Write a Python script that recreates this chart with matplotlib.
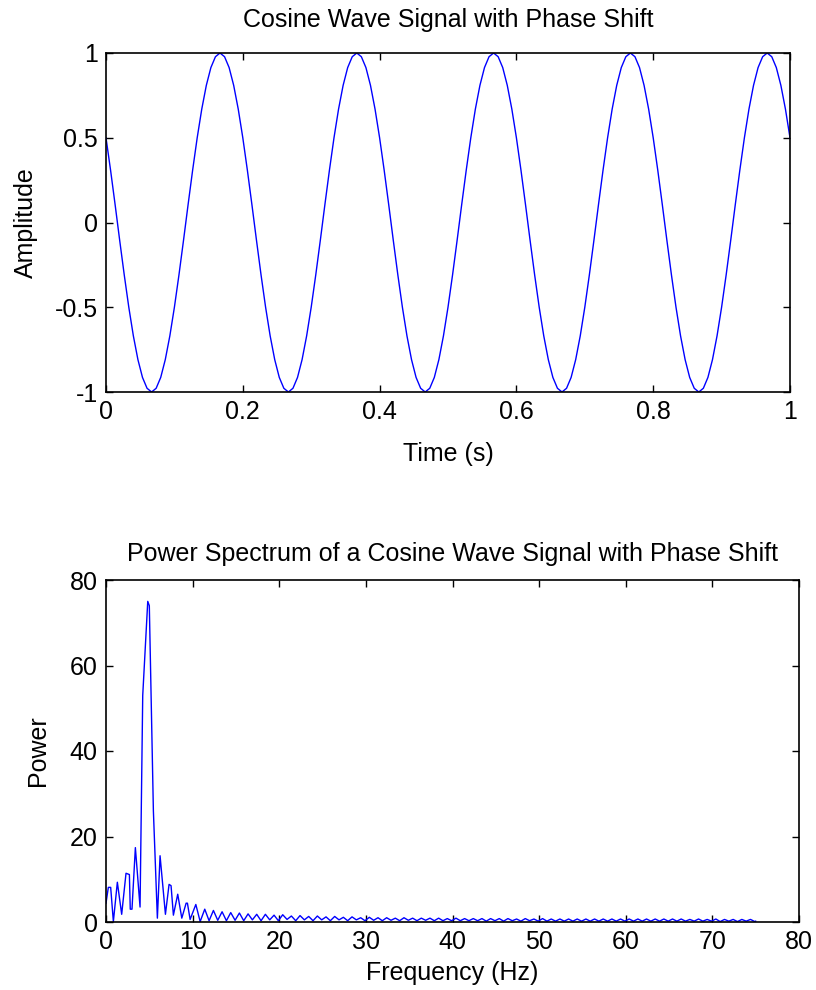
import numpy as np
import matplotlib
matplotlib.use("Agg")
import matplotlib.pyplot as plt

plt.rcParams['font.family'] = ['Liberation Sans', 'DejaVu Sans']

# ---- top panel: sampled cosine (151 samples over 1 s) ----
amplitude = [
    0.5, 0.309, 0.105, -0.105, -0.309, -0.5, -0.669, -0.809, -0.914, -0.978,
    -1.0, -0.978, -0.914, -0.809, -0.669, -0.5, -0.309, -0.105, 0.105, 0.309,
    0.5, 0.669, 0.809, 0.914, 0.978, 1.0, 0.978, 0.914, 0.809, 0.669,
    0.5, 0.309, 0.105, -0.105, -0.309, -0.5, -0.669, -0.809, -0.914, -0.978,
    -1.0, -0.978, -0.914, -0.809, -0.669, -0.5, -0.309, -0.105, 0.105, 0.309,
    0.5, 0.669, 0.809, 0.914, 0.978, 1.0, 0.978, 0.914, 0.809, 0.669,
    0.5, 0.309, 0.105, -0.105, -0.309, -0.5, -0.669, -0.809, -0.914, -0.978,
    -1.0, -0.978, -0.914, -0.809, -0.669, -0.5, -0.309, -0.105, 0.105, 0.309,
    0.5, 0.669, 0.809, 0.914, 0.978, 1.0, 0.978, 0.914, 0.809, 0.669,
    0.5, 0.309, 0.105, -0.105, -0.309, -0.5, -0.669, -0.809, -0.914, -0.978,
    -1.0, -0.978, -0.914, -0.809, -0.669, -0.5, -0.309, -0.105, 0.105, 0.309,
    0.5, 0.669, 0.809, 0.914, 0.978, 1.0, 0.978, 0.914, 0.809, 0.669,
    0.5, 0.309, 0.105, -0.105, -0.309, -0.5, -0.669, -0.809, -0.914, -0.978,
    -1.0, -0.978, -0.914, -0.809, -0.669, -0.5, -0.309, -0.105, 0.105, 0.309,
    0.5, 0.669, 0.809, 0.914, 0.978, 1.0, 0.978, 0.914, 0.809, 0.669,
    0.5,
]
time_s = np.linspace(0.0, 1.0, len(amplitude))

top_xticks = [0, 0.2, 0.4, 0.6, 0.8, 1]
top_xticklabels = ["0", "0.2", "0.4", "0.6", "0.8", "1"]
top_yticks = [-1, -0.5, 0, 0.5, 1]
top_yticklabels = ["-1", "-0.5", "0", "0.5", "1"]

# ---- bottom panel: spectrum ----
freq_near = [0.0, 0.27, 0.54, 0.85, 1.31, 1.81, 2.31, 2.70, 2.80, 3.00,
             3.39, 3.93, 4.24, 4.82, 5.00, 5.47, 5.93, 6.24, 6.86, 7.28,
             7.51, 7.78, 8.28, 8.75, 9.25, 9.40, 9.71, 10.37, 10.87]
power_near = [4.4, 8.1, 8.1, 0.1, 9.3, 1.8, 11.4, 11.1, 3.0, 3.0,
              17.4, 3.5, 53.0, 75.0, 74.0, 26.0, 0.9, 15.5, 1.8, 8.8,
              8.5, 1.6, 6.5, 0.9, 4.4, 4.4, 0.6, 4.1, 0.1]

freq_far = [11.4, 11.9, 12.4, 12.9, 13.4, 13.9, 14.4, 14.9, 15.4, 15.9,
            16.4, 16.9, 17.4, 17.9, 18.4, 18.9, 19.4, 19.9, 20.4, 20.9,
            21.4, 21.9, 22.4, 22.9, 23.4, 23.9, 24.4, 24.9, 25.4, 25.9,
            26.4, 26.9, 27.4, 27.9, 28.4, 28.9, 29.4, 29.9, 30.4, 30.9,
            31.4, 31.9, 32.4, 32.9, 33.4, 33.9, 34.4, 34.9, 35.4, 35.9,
            36.4, 36.9, 37.4, 37.9, 38.4, 38.9, 39.4, 39.9, 40.4, 40.9,
            41.4, 41.9, 42.4, 42.9, 43.4, 43.9, 44.4, 44.9, 45.4, 45.9,
            46.4, 46.9, 47.4, 47.9, 48.4, 48.9, 49.4, 49.9, 50.4, 50.9,
            51.4, 51.9, 52.4, 52.9, 53.4, 53.9, 54.4, 54.9, 55.4, 55.9,
            56.4, 56.9, 57.4, 57.9, 58.4, 58.9, 59.4, 59.9, 60.4, 60.9,
            61.4, 61.9, 62.4, 62.9, 63.4, 63.9, 64.4, 64.9, 65.4, 65.9,
            66.4, 66.9, 67.4, 67.9, 68.4, 68.9, 69.4, 69.9, 70.4, 70.9,
            71.4, 71.9, 72.4, 72.9, 73.4, 73.9, 74.4, 74.9, 75.0]
power_far = [3.0, 0.3, 2.7, 0.4, 2.4, 0.3, 2.2, 0.4, 2.1, 0.3, 1.9, 0.5, 1.8, 0.3, 1.8, 0.5, 1.6, 0.3, 1.7, 0.6,
             1.4, 0.3, 1.5, 0.5, 1.3, 0.3, 1.4, 0.5, 1.2, 0.3, 1.3, 0.5, 1.1, 0.3, 1.2, 0.5, 1.0, 0.3, 1.1, 0.4,
             1.0, 0.3, 1.0, 0.4, 0.9, 0.3, 1.0, 0.4, 0.9, 0.3, 0.9, 0.4, 0.9, 0.3, 0.9, 0.3, 0.8, 0.3, 0.9, 0.3,
             0.8, 0.3, 0.8, 0.3, 0.8, 0.2, 0.8, 0.3, 0.8, 0.2, 0.8, 0.3, 0.7, 0.2, 0.8, 0.3, 0.7, 0.2, 0.8, 0.2,
             0.7, 0.2, 0.7, 0.2, 0.7, 0.2, 0.7, 0.2, 0.7, 0.2, 0.7, 0.2, 0.7, 0.2, 0.7, 0.2, 0.7, 0.2, 0.7, 0.2,
             0.7, 0.2, 0.7, 0.2, 0.7, 0.2, 0.7, 0.2, 0.7, 0.2, 0.7, 0.2, 0.6, 0.2, 0.7, 0.2, 0.6, 0.2, 0.7, 0.1,
             0.6, 0.2, 0.6, 0.1, 0.6, 0.2, 0.6, 0.1,
             0.2]

bot_xticks = [0, 10, 20, 30, 40, 50, 60, 70, 80]
bot_yticks = [0, 20, 40, 60, 80]

FS = 18
W, H = 816, 990
fig = plt.figure(figsize=(W / 100, H / 100), dpi=100)


def style(ax):
    ax.tick_params(direction='in', length=5, width=1, top=True, right=True,
                   labelsize=FS, pad=6, colors='black')
    for s in ax.spines.values():
        s.set_linewidth(1.2)
        s.set_color('black')


ax1 = fig.add_axes([106 / W, 1 - 392 / H, 684 / W, 339 / H])
ax1.plot(time_s, amplitude, color='#0000ff', lw=1.0)
ax1.set_xlim(0, 1)
ax1.set_ylim(-1, 1)
ax1.set_xticks(top_xticks)
ax1.set_xticklabels(top_xticklabels)
ax1.set_yticks(top_yticks)
ax1.set_yticklabels(top_yticklabels)
ax1.set_title("Cosine Wave Signal with Phase Shift", fontsize=FS, pad=19)
ax1.set_xlabel("Time (s)", fontsize=FS, labelpad=13)
ax1.set_ylabel("Amplitude", fontsize=FS, labelpad=12)
style(ax1)

ax2 = fig.add_axes([106 / W, 1 - 922 / H, 693 / W, 342 / H])
ax2.plot(np.concatenate([freq_near, freq_far]),
         np.concatenate([power_near, power_far]), color='#0000ff', lw=1.0)
ax2.set_xlim(0, 80)
ax2.set_ylim(0, 80)
ax2.set_xticks(bot_xticks)
ax2.set_xticklabels([str(v) for v in bot_xticks])
ax2.set_yticks(bot_yticks)
ax2.set_yticklabels([str(v) for v in bot_yticks])
ax2.set_title("Power Spectrum of a Cosine Wave Signal with Phase Shift",
              fontsize=FS, pad=14)
ax2.set_xlabel("Frequency (Hz)", fontsize=FS, labelpad=5)
ax2.set_ylabel("Power", fontsize=FS, labelpad=14)
style(ax2)

fig.savefig("out.png", dpi=100)
